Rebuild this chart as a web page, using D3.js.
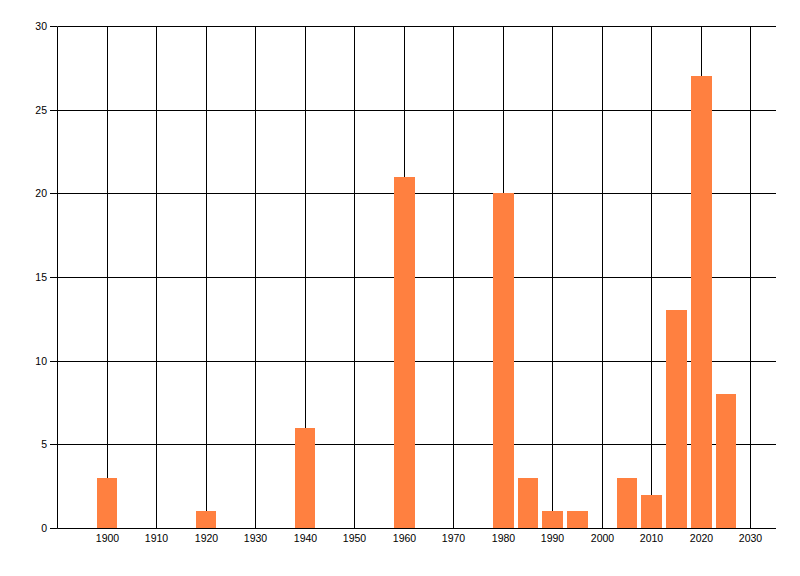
<!DOCTYPE html>
<html>
<head>
<meta charset="utf-8">
<script src="https://cdn.jsdelivr.net/npm/d3@7"></script>
<style>
  body { margin: 0; background: #fff; }
  svg { display: block; }
  text { font-family: "Liberation Sans", Arial, sans-serif; font-size: 10.5px; fill: #000; }
</style>
</head>
<body>
<svg width="800" height="576"></svg>
<script>
// bar data: year -> count
const years = [1900, 1920, 1940, 1960, 1980, 1985, 1990, 1995, 2005, 2010, 2015, 2020, 2025];
const counts = [3, 1, 6, 21, 20, 3, 1, 1, 3, 2, 13, 27, 8];
const xTicks = [1900, 1910, 1920, 1930, 1940, 1950, 1960, 1970, 1980, 1990, 2000, 2010, 2020, 2030];
const yTicks = [0, 5, 10, 15, 20, 25, 30];

const WIDTH = 800, HEIGHT = 576;
const plotLeft = 57, plotRight = 775, plotTop = 26, plotBottom = 528;

const svg = d3.select('svg');

// rangeRound keeps every line on a whole pixel
const xScale = d3.scaleLinear().domain([1890, 2035]).rangeRound([plotLeft, plotRight]);
const yScale = d3.scaleLinear().domain([0, 30]).rangeRound([plotBottom, plotTop]);

// grid lines
svg.append('g')
  .selectAll('line')
  .data(xTicks)
  .enter()
  .append('line')
  .attr('x1', d => xScale(d) + 0.5)
  .attr('x2', d => xScale(d) + 0.5)
  .attr('y1', plotTop + 0.5)
  .attr('y2', plotBottom + 0.5)
  .attr('stroke', '#000');

svg.append('g')
  .selectAll('line')
  .data(yTicks)
  .enter()
  .append('line')
  .attr('x1', plotLeft + 0.5)
  .attr('x2', plotRight + 1)
  .attr('y1', d => yScale(d) + 0.5)
  .attr('y2', d => yScale(d) + 0.5)
  .attr('stroke', '#000');

// bars (4 years wide, centred on the year)
const data = years.map((y, i) => ({ year: y, count: counts[i] }));
svg.append('g')
  .selectAll('rect')
  .data(data)
  .enter()
  .append('rect')
  .attr('x', d => xScale(d.year - 2))
  .attr('width', d => xScale(d.year + 2) - xScale(d.year - 2) + 1)
  .attr('y', d => yScale(d.count))
  .attr('height', d => yScale(0) - yScale(d.count))
  .attr('fill', '#ff8040');

// axes
const leftAxis = d3.axisLeft(yScale).tickValues(yTicks).tickSize(7).tickSizeOuter(0).tickPadding(3);
svg.append('g')
  .attr('transform', 'translate(' + plotLeft + ',0)')
  .call(leftAxis)
  .call(g => g.select('.domain').attr('stroke', '#000'))
  .call(g => g.selectAll('.tick line').attr('stroke', '#000'));

const bottomAxis = d3.axisBottom(xScale).tickValues(xTicks).tickSize(0).tickSizeOuter(0).tickPadding(7)
  .tickFormat(d3.format('d'));
svg.append('g')
  .attr('transform', 'translate(0,' + plotBottom + ')')
  .call(bottomAxis)
  .call(g => g.select('.domain').attr('stroke', '#000'));

svg.selectAll('g').attr('font-family', null).attr('font-size', null);
svg.selectAll('text').attr('fill', '#000');
</script>
</body>
</html>
